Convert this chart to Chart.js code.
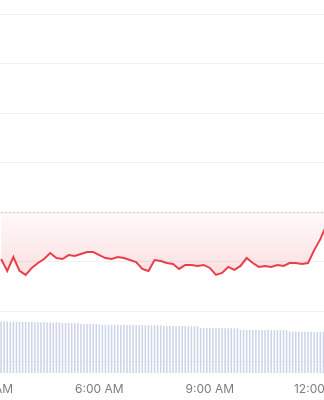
<!DOCTYPE html>
<html><head><meta charset="utf-8">
<script src="https://cdn.jsdelivr.net/npm/chart.js@4.4.1/dist/chart.umd.min.js"></script>
<style>
html,body{margin:0;padding:0;background:#fff;overflow:hidden;width:324px;height:400px;}
#wrap{position:absolute;left:-60px;top:0;width:444px;height:406px;}
</style></head><body>
<div id="wrap"><canvas id="c"></canvas></div>
<script>
// x values are minutes since midnight
const tickTimes = [180, 360, 540, 720];
const tickLabels = ['3:00 AM', '6:00 AM', '9:00 AM', '12:00 PM'];
const gridValues = [0, 1, 2, 3, 4, 5, 6, 7];
const openPrice = 3.0;

const priceTimes = Array.from({length: 54}, (_, i) => 200 + 10 * i);
const prices = [
  2.06, 1.82, 2.10, 1.82, 1.74, 1.88, 1.98, 2.06, 2.18, 2.08,
  2.06, 2.14, 2.12, 2.16, 2.20, 2.20, 2.14, 2.08, 2.06, 2.10,
  2.08, 2.04, 2.00, 1.86, 1.82, 2.04, 2.02, 1.98, 1.96, 1.86,
  1.94, 1.94, 1.92, 1.94, 1.88, 1.74, 1.78, 1.90, 1.84, 1.92,
  2.08, 1.98, 1.90, 1.92, 1.90, 1.94, 1.92, 1.98, 1.98, 1.96,
  1.98, 2.24, 2.46, 2.75
];

const volumeTimes = Array.from({length: 106}, (_, i) => 200 + 5 * i);
const volumes = [
  10.00, 10.02, 9.98, 9.98, 10.00, 9.96, 9.96, 9.94, 9.96, 9.92,
  9.92, 9.90, 9.92, 9.88, 9.88, 9.86, 9.86, 9.84, 9.86, 9.82,
  9.76, 9.74, 9.74, 9.72, 9.72, 9.70,
  9.58, 9.56, 9.56, 9.54, 9.56, 9.52, 9.52,
  9.38, 9.38, 9.36, 9.36, 9.36, 9.34, 9.36, 9.34, 9.34, 9.34,
  9.32, 9.34, 9.32, 9.32, 9.30, 9.32, 9.30, 9.30, 9.30, 9.28,
  9.18, 9.18, 9.16, 9.16, 9.16, 9.14, 9.14, 9.14, 9.12, 9.12, 9.12, 9.10,
  8.80, 8.80, 8.78, 8.78, 8.78, 8.76, 8.76, 8.76, 8.74, 8.74, 8.74, 8.72, 8.72,
  8.42, 8.42, 8.40, 8.40, 8.40, 8.40, 8.38, 8.38, 8.38, 8.38, 8.36, 8.36, 8.36, 8.36, 8.34, 8.34,
  8.08, 8.08, 8.08, 8.06, 8.06, 8.06, 8.06, 8.04, 8.04, 8.04, 8.04, 8.02
];

const viewStart = 102.1, viewEnd = 822.1;

const chart = new Chart(document.getElementById('c'), {
  type: 'bar',
  data: {
    datasets: [
      {
        type: 'line',
        data: priceTimes.map((t, i) => ({x: t, y: prices[i]})),
        borderColor: '#ea3f4a',
        borderWidth: 2,
        pointRadius: 0,
        tension: 0,
        fill: {value: openPrice},
        backgroundColor: 'rgba(234,57,67,0.08)',
        yAxisID: 'y',
        order: 0
      },
      {
        type: 'line',
        data: priceTimes.map(t => ({x: t, y: openPrice})),
        borderColor: '#d4d4d4',
        borderWidth: 1.5,
        borderDash: [2, 2],
        pointRadius: 0,
        fill: false,
        yAxisID: 'y',
        order: 1
      },
      {
        type: 'bar',
        data: volumeTimes.map((t, i) => ({x: t, y: volumes[i]})),
        backgroundColor: '#ccd4e7',
        barPercentage: 0.5,
        categoryPercentage: 1,
        yAxisID: 'y2',
        order: 2
      }
    ]
  },
  options: {
    responsive: true,
    maintainAspectRatio: false,
    animation: false,
    devicePixelRatio: 1,
    layout: {padding: {top: 14, bottom: 0.6, left: 0, right: 0}},
    plugins: {legend: {display: false}, tooltip: {enabled: false}},
    scales: {
      x: {
        type: 'linear',
        min: viewStart,
        max: viewEnd,
        offset: false,
        grid: {display: false, drawTicks: false},
        border: {display: false},
        afterBuildTicks: s => { s.ticks = tickTimes.map(v => ({value: v})); },
        ticks: {
          autoSkip: false,
          maxRotation: 0,
          padding: 9,
          color: '#7d7d7d',
          font: {family: 'Inter', size: 12},
          callback: v => tickLabels[tickTimes.indexOf(v)]
        }
      },
      y: {
        position: 'left',
        min: -0.238,
        max: 7,
        afterBuildTicks: s => { s.ticks = gridValues.map(v => ({value: v})); },
        grid: {color: '#eef0f3', lineWidth: 1, drawTicks: false},
        border: {display: false},
        ticks: {display: false}
      },
      y2: {
        display: false,
        min: 0,
        max: 70
      }
    }
  }
});

const ys = chart.scales.y;
const g = chart.ctx.createLinearGradient(0, ys.getPixelForValue(openPrice), 0, ys.getPixelForValue(1.7));
g.addColorStop(0, 'rgba(234,57,67,0.03)');
g.addColorStop(1, 'rgba(234,57,67,0.16)');
chart.data.datasets[0].backgroundColor = g;
chart.update('none');
</script>
</body></html>
